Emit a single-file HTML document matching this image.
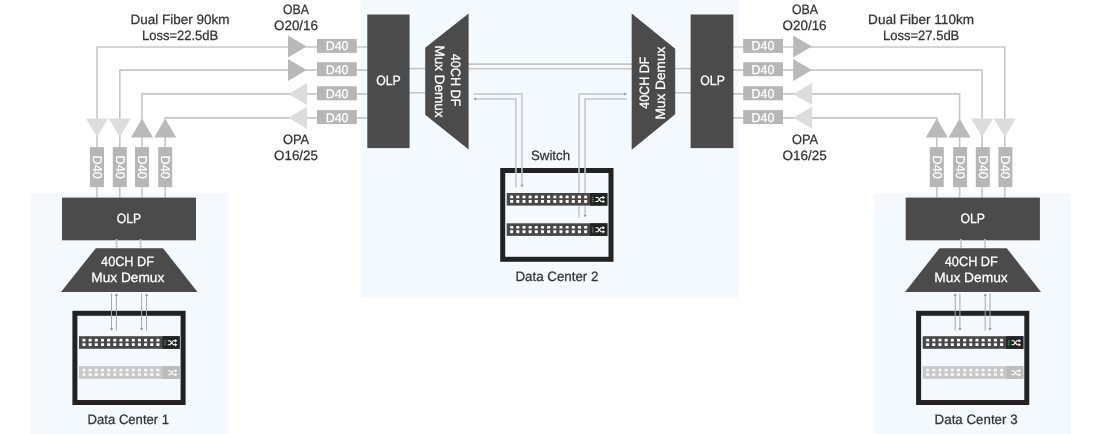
<!DOCTYPE html><html><head><meta charset="utf-8"><title>diagram</title><style>html,body{margin:0;padding:0;background:#fff}svg{display:block;will-change:transform}text{font-family:"Liberation Sans",sans-serif;text-rendering:geometricPrecision}</style></head><body><svg width="1100" height="434" viewBox="0 0 1100 434">
<rect width="1100" height="434" fill="#ffffff"/>
<rect x="30.7" y="193.1" width="196.8" height="242" fill="#f4f9fd"/>
<rect x="360.8" y="0" width="377.9" height="297.7" fill="#f4f9fd"/>
<rect x="874.5" y="193.1" width="196.5" height="242" fill="#f4f9fd"/>
<path d="M97.0 197.5 V47.0 H367.5" fill="none" stroke="#c6c6c6" stroke-width="1.6"/>
<path d="M119.8 197.5 V70.1 H367.5" fill="none" stroke="#c6c6c6" stroke-width="1.6"/>
<path d="M142.0 197.5 V93.9 H367.5" fill="none" stroke="#c6c6c6" stroke-width="1.6"/>
<path d="M165.2 197.5 V117.9 H367.5" fill="none" stroke="#c6c6c6" stroke-width="1.6"/>
<path d="M1004.8 197.5 V47.0 H733" fill="none" stroke="#c6c6c6" stroke-width="1.6"/>
<path d="M982.1 197.5 V70.1 H733" fill="none" stroke="#c6c6c6" stroke-width="1.6"/>
<path d="M959.6 197.5 V93.9 H733" fill="none" stroke="#c6c6c6" stroke-width="1.6"/>
<path d="M936.8 197.5 V117.9 H733" fill="none" stroke="#c6c6c6" stroke-width="1.6"/>
<path d="M409 68.6 H426" stroke="#c6c6c6" stroke-width="1.6"/>
<path d="M675 68.6 H691" stroke="#c6c6c6" stroke-width="1.6"/>
<path d="M409 92.8 H426" stroke="#c6c6c6" stroke-width="1.6"/>
<path d="M675 92.8 H691" stroke="#c6c6c6" stroke-width="1.6"/>
<path d="M468 64.1 H632" stroke="#c6c6c6" stroke-width="1.6"/>
<path d="M468 68.7 H632" stroke="#c6c6c6" stroke-width="1.6"/>
<polygon points="288,35.5 306.6,46.5 288,57.5" fill="#b9b9b9"/>
<polygon points="288,59.0 306.6,70.0 288,81.0" fill="#b9b9b9"/>
<polygon points="307,83.1 288.4,94.1 307,105.1" fill="#dcdcdc"/>
<polygon points="307,106.7 288.4,117.7 307,128.7" fill="#dcdcdc"/>
<polygon points="793.2,35.5 811.8,46.5 793.2,57.5" fill="#b9b9b9"/>
<polygon points="793.2,59.0 811.8,70.0 793.2,81.0" fill="#b9b9b9"/>
<polygon points="812.2,83.1 793.1,94.1 812.2,105.1" fill="#dcdcdc"/>
<polygon points="812.2,106.7 793.1,117.7 812.2,128.7" fill="#dcdcdc"/>
<polygon points="86.0,118.6 108.0,118.6 97.0,137.1" fill="#dcdcdc"/>
<polygon points="108.8,118.6 130.8,118.6 119.8,137.1" fill="#dcdcdc"/>
<polygon points="131.0,137.4 153.0,137.4 142.0,118.6" fill="#b9b9b9"/>
<polygon points="154.2,137.4 176.2,137.4 165.2,118.6" fill="#b9b9b9"/>
<polygon points="993.8,118.6 1015.8,118.6 1004.8,137.1" fill="#dcdcdc"/>
<polygon points="971.1,118.6 993.1,118.6 982.1,137.1" fill="#dcdcdc"/>
<polygon points="948.6,137.4 970.6,137.4 959.6,118.6" fill="#b9b9b9"/>
<polygon points="925.8,137.4 947.8,137.4 936.8,118.6" fill="#b9b9b9"/>
<rect x="317" y="38.9" width="39.8" height="14" fill="#b6b6b6"/>
<text x="325.7" y="50.3" font-size="12.8" fill="#fff" stroke="#fff" stroke-width="0.25" textLength="22.8" lengthAdjust="spacingAndGlyphs" >D40</text>
<rect x="743.2" y="38.9" width="39.8" height="14" fill="#b6b6b6"/>
<text x="751.6" y="50.3" font-size="12.8" fill="#fff" stroke="#fff" stroke-width="0.25" textLength="22.8" lengthAdjust="spacingAndGlyphs" >D40</text>
<rect x="317" y="62.2" width="39.8" height="14" fill="#b6b6b6"/>
<text x="325.7" y="73.60000000000001" font-size="12.8" fill="#fff" stroke="#fff" stroke-width="0.25" textLength="22.8" lengthAdjust="spacingAndGlyphs" >D40</text>
<rect x="743.2" y="62.2" width="39.8" height="14" fill="#b6b6b6"/>
<text x="751.6" y="73.60000000000001" font-size="12.8" fill="#fff" stroke="#fff" stroke-width="0.25" textLength="22.8" lengthAdjust="spacingAndGlyphs" >D40</text>
<rect x="317" y="86.3" width="39.8" height="14" fill="#b6b6b6"/>
<text x="325.7" y="97.7" font-size="12.8" fill="#fff" stroke="#fff" stroke-width="0.25" textLength="22.8" lengthAdjust="spacingAndGlyphs" >D40</text>
<rect x="743.2" y="86.3" width="39.8" height="14" fill="#b6b6b6"/>
<text x="751.6" y="97.7" font-size="12.8" fill="#fff" stroke="#fff" stroke-width="0.25" textLength="22.8" lengthAdjust="spacingAndGlyphs" >D40</text>
<rect x="317" y="110.1" width="39.8" height="14" fill="#b6b6b6"/>
<text x="325.7" y="121.5" font-size="12.8" fill="#fff" stroke="#fff" stroke-width="0.25" textLength="22.8" lengthAdjust="spacingAndGlyphs" >D40</text>
<rect x="743.2" y="110.1" width="39.8" height="14" fill="#b6b6b6"/>
<text x="751.6" y="121.5" font-size="12.8" fill="#fff" stroke="#fff" stroke-width="0.25" textLength="22.8" lengthAdjust="spacingAndGlyphs" >D40</text>
<rect x="90.0" y="147.1" width="14" height="40" fill="#b6b6b6"/>
<g transform="translate(92.8,155.6) rotate(90)">
<text x="0" y="0" font-size="12.8" fill="#fff" stroke="#fff" stroke-width="0.25" textLength="23.2" lengthAdjust="spacingAndGlyphs" >D40</text>
</g>
<rect x="112.8" y="147.1" width="14" height="40" fill="#b6b6b6"/>
<g transform="translate(115.6,155.6) rotate(90)">
<text x="0" y="0" font-size="12.8" fill="#fff" stroke="#fff" stroke-width="0.25" textLength="23.2" lengthAdjust="spacingAndGlyphs" >D40</text>
</g>
<rect x="135.0" y="147.1" width="14" height="40" fill="#b6b6b6"/>
<g transform="translate(137.8,155.6) rotate(90)">
<text x="0" y="0" font-size="12.8" fill="#fff" stroke="#fff" stroke-width="0.25" textLength="23.2" lengthAdjust="spacingAndGlyphs" >D40</text>
</g>
<rect x="158.2" y="147.1" width="14" height="40" fill="#b6b6b6"/>
<g transform="translate(161.0,155.6) rotate(90)">
<text x="0" y="0" font-size="12.8" fill="#fff" stroke="#fff" stroke-width="0.25" textLength="23.2" lengthAdjust="spacingAndGlyphs" >D40</text>
</g>
<rect x="998.4" y="147.1" width="14" height="40" fill="#b6b6b6"/>
<g transform="translate(1001.1999999999999,155.6) rotate(90)">
<text x="0" y="0" font-size="12.8" fill="#fff" stroke="#fff" stroke-width="0.25" textLength="23.2" lengthAdjust="spacingAndGlyphs" >D40</text>
</g>
<rect x="975.8" y="147.1" width="14" height="40" fill="#b6b6b6"/>
<g transform="translate(978.5999999999999,155.6) rotate(90)">
<text x="0" y="0" font-size="12.8" fill="#fff" stroke="#fff" stroke-width="0.25" textLength="23.2" lengthAdjust="spacingAndGlyphs" >D40</text>
</g>
<rect x="953.1" y="147.1" width="14" height="40" fill="#b6b6b6"/>
<g transform="translate(955.9,155.6) rotate(90)">
<text x="0" y="0" font-size="12.8" fill="#fff" stroke="#fff" stroke-width="0.25" textLength="23.2" lengthAdjust="spacingAndGlyphs" >D40</text>
</g>
<rect x="929.8" y="147.1" width="14" height="40" fill="#b6b6b6"/>
<g transform="translate(932.5999999999999,155.6) rotate(90)">
<text x="0" y="0" font-size="12.8" fill="#fff" stroke="#fff" stroke-width="0.25" textLength="23.2" lengthAdjust="spacingAndGlyphs" >D40</text>
</g>
<rect x="367.3" y="14.5" width="42.3" height="133.6" fill="#4b4b4b"/>
<rect x="690.6" y="14.5" width="42.8" height="133.6" fill="#4b4b4b"/>
<rect x="62" y="197.6" width="134" height="42.7" fill="#4b4b4b"/>
<rect x="905.7" y="197.6" width="134.2" height="42.7" fill="#4b4b4b"/>
<text x="376.2" y="84.6" font-size="13.5" fill="#fff" stroke="#fff" stroke-width="0.25" textLength="24.6" lengthAdjust="spacingAndGlyphs" >OLP</text>
<text x="700.3" y="84.6" font-size="13.5" fill="#fff" stroke="#fff" stroke-width="0.25" textLength="24.6" lengthAdjust="spacingAndGlyphs" >OLP</text>
<text x="116.8" y="223.3" font-size="13.5" fill="#fff" stroke="#fff" stroke-width="0.25" textLength="24.4" lengthAdjust="spacingAndGlyphs" >OLP</text>
<text x="960.4" y="223.3" font-size="13.5" fill="#fff" stroke="#fff" stroke-width="0.25" textLength="24.6" lengthAdjust="spacingAndGlyphs" >OLP</text>
<polygon points="468.6,13.4 468.6,149.6 425.2,114.7 425.2,47.8" fill="#4b4b4b"/>
<polygon points="631.7,13.5 631.7,149.7 675.2,114.3 675.2,48.7" fill="#4b4b4b"/>
<g transform="translate(450.8,53.8) rotate(90)">
<text x="0" y="0" font-size="13.5" fill="#fff" stroke="#fff" stroke-width="0.25" textLength="52.6" lengthAdjust="spacingAndGlyphs" >40CH DF</text>
</g>
<g transform="translate(435.2,45.4) rotate(90)">
<text x="0" y="0" font-size="13.5" fill="#fff" stroke="#fff" stroke-width="0.25" textLength="72.2" lengthAdjust="spacingAndGlyphs" >Mux Demux</text>
</g>
<g transform="translate(649.4,108.8) rotate(-90)">
<text x="0" y="0" font-size="13.5" fill="#fff" stroke="#fff" stroke-width="0.25" textLength="52.1" lengthAdjust="spacingAndGlyphs" >40CH DF</text>
</g>
<g transform="translate(665,119.5) rotate(-90)">
<text x="0" y="0" font-size="13.5" fill="#fff" stroke="#fff" stroke-width="0.25" textLength="72.8" lengthAdjust="spacingAndGlyphs" >Mux Demux</text>
</g>
<path d="M116.6 239 V249 M140.6 239 V249" stroke="#c6c6c6" stroke-width="1.6"/>
<polygon points="95.8,248.2 163,248.2 197.5,292 61,292" fill="#4b4b4b"/>
<path d="M961 239 V249 M985 239 V249" stroke="#c6c6c6" stroke-width="1.6"/>
<polygon points="939.5,248.2 1006.8,248.2 1041,292 905,292" fill="#4b4b4b"/>
<text x="101.1" y="265.7" font-size="13.5" fill="#fff" stroke="#fff" stroke-width="0.25" textLength="52.8" lengthAdjust="spacingAndGlyphs" >40CH DF</text>
<text x="91.3" y="281.8" font-size="13.5" fill="#fff" stroke="#fff" stroke-width="0.25" textLength="73" lengthAdjust="spacingAndGlyphs" >Mux Demux</text>
<text x="944.8" y="265.7" font-size="13.5" fill="#fff" stroke="#fff" stroke-width="0.25" textLength="53" lengthAdjust="spacingAndGlyphs" >40CH DF</text>
<text x="934.3" y="281.8" font-size="13.5" fill="#fff" stroke="#fff" stroke-width="0.25" textLength="73.4" lengthAdjust="spacingAndGlyphs" >Mux Demux</text>
<rect x="74.9" y="313.3" width="108.2" height="89.2" fill="none" stroke="#222222" stroke-width="5"/>
<rect x="918.6" y="313.3" width="108.2" height="89.2" fill="none" stroke="#222222" stroke-width="5"/>
<rect x="502.7" y="170.5" width="108.3" height="88.8" fill="none" stroke="#222222" stroke-width="5"/>
<path d="M111.5 293.6 V329" fill="none" stroke="#a8a8a8" stroke-width="1"/>
<polygon points="109.8,328.0 113.2,328.0 111.5,330.8" fill="#9c9c9c"/>
<path d="M141.6 293.6 V329" fill="none" stroke="#a8a8a8" stroke-width="1"/>
<polygon points="139.9,328.0 143.29999999999998,328.0 141.6,330.8" fill="#9c9c9c"/>
<path d="M116.4 295 V330.6" fill="none" stroke="#a8a8a8" stroke-width="1"/>
<polygon points="114.7,296.0 118.10000000000001,296.0 116.4,293.2" fill="#9c9c9c"/>
<path d="M146.5 295 V330.6" fill="none" stroke="#a8a8a8" stroke-width="1"/>
<polygon points="144.8,296.0 148.2,296.0 146.5,293.2" fill="#9c9c9c"/>
<path d="M955.2 295 V330.6" fill="none" stroke="#a8a8a8" stroke-width="1"/>
<polygon points="953.5,296.0 956.9000000000001,296.0 955.2,293.2" fill="#9c9c9c"/>
<path d="M985.2 295 V330.6" fill="none" stroke="#a8a8a8" stroke-width="1"/>
<polygon points="983.5,296.0 986.9000000000001,296.0 985.2,293.2" fill="#9c9c9c"/>
<path d="M959.9 293.6 V329" fill="none" stroke="#a8a8a8" stroke-width="1"/>
<polygon points="958.1999999999999,328.0 961.6,328.0 959.9,330.8" fill="#9c9c9c"/>
<path d="M990 293.6 V329" fill="none" stroke="#a8a8a8" stroke-width="1"/>
<polygon points="988.3,328.0 991.7,328.0 990,330.8" fill="#9c9c9c"/>
<path d="M473.6 94 H522 V186" fill="none" stroke="#c3c6c9" stroke-width="1.5"/>
<polygon points="520.3,184.79999999999998 523.7,184.79999999999998 522,187.6" fill="#9c9c9c"/>
<path d="M475 98.9 H515.9 V187.4" fill="none" stroke="#c3c6c9" stroke-width="1.5"/>
<polygon points="476.1,97.2 476.1,100.60000000000001 473.3,98.9" fill="#9c9c9c"/>
<path d="M625 94 H579 V217.4" fill="none" stroke="#c3c6c9" stroke-width="1.5"/>
<polygon points="624.1,92.3 624.1,95.7 626.9,94" fill="#9c9c9c"/>
<path d="M626.8 98.9 H585.1 V216" fill="none" stroke="#c3c6c9" stroke-width="1.5"/>
<polygon points="583.4,214.79999999999998 586.8000000000001,214.79999999999998 585.1,217.6" fill="#9c9c9c"/>
<rect x="79" y="336.2" width="100.7" height="12.6" fill="#484848"/>
<rect x="162.5" y="336.2" width="17.200000000000003" height="12.6" fill="#222222"/>
<path d="M82.40 341.4 V339.7 Q82.40 338.8 83.30 338.8 H84.60 Q85.50 338.8 85.50 339.7 V341.4 Z" fill="#ffffff"/>
<path d="M82.40 343.2 H85.50 V345.2 Q85.50 346.09999999999997 84.60 346.09999999999997 H83.30 Q82.40 346.09999999999997 82.40 345.2 Z" fill="#ffffff"/>
<path d="M88.57 341.4 V339.7 Q88.57 338.8 89.47 338.8 H90.77 Q91.67 338.8 91.67 339.7 V341.4 Z" fill="#ffffff"/>
<path d="M88.57 343.2 H91.67 V345.2 Q91.67 346.09999999999997 90.77 346.09999999999997 H89.47 Q88.57 346.09999999999997 88.57 345.2 Z" fill="#ffffff"/>
<path d="M94.73 341.4 V339.7 Q94.73 338.8 95.63 338.8 H96.93 Q97.83 338.8 97.83 339.7 V341.4 Z" fill="#ffffff"/>
<path d="M94.73 343.2 H97.83 V345.2 Q97.83 346.09999999999997 96.93 346.09999999999997 H95.63 Q94.73 346.09999999999997 94.73 345.2 Z" fill="#ffffff"/>
<path d="M100.90 341.4 V339.7 Q100.90 338.8 101.80 338.8 H103.09 Q104.00 338.8 104.00 339.7 V341.4 Z" fill="#ffffff"/>
<path d="M100.90 343.2 H104.00 V345.2 Q104.00 346.09999999999997 103.09 346.09999999999997 H101.80 Q100.90 346.09999999999997 100.90 345.2 Z" fill="#ffffff"/>
<path d="M107.06 341.4 V339.7 Q107.06 338.8 107.96 338.8 H109.26 Q110.16 338.8 110.16 339.7 V341.4 Z" fill="#ffffff"/>
<path d="M107.06 343.2 H110.16 V345.2 Q110.16 346.09999999999997 109.26 346.09999999999997 H107.96 Q107.06 346.09999999999997 107.06 345.2 Z" fill="#ffffff"/>
<path d="M113.23 341.4 V339.7 Q113.23 338.8 114.13 338.8 H115.42 Q116.33 338.8 116.33 339.7 V341.4 Z" fill="#ffffff"/>
<path d="M113.23 343.2 H116.33 V345.2 Q116.33 346.09999999999997 115.42 346.09999999999997 H114.13 Q113.23 346.09999999999997 113.23 345.2 Z" fill="#ffffff"/>
<path d="M119.39 341.4 V339.7 Q119.39 338.8 120.29 338.8 H121.59 Q122.49 338.8 122.49 339.7 V341.4 Z" fill="#ffffff"/>
<path d="M119.39 343.2 H122.49 V345.2 Q122.49 346.09999999999997 121.59 346.09999999999997 H120.29 Q119.39 346.09999999999997 119.39 345.2 Z" fill="#ffffff"/>
<path d="M125.56 341.4 V339.7 Q125.56 338.8 126.46 338.8 H127.75 Q128.66 338.8 128.66 339.7 V341.4 Z" fill="#ffffff"/>
<path d="M125.56 343.2 H128.66 V345.2 Q128.66 346.09999999999997 127.75 346.09999999999997 H126.46 Q125.56 346.09999999999997 125.56 345.2 Z" fill="#ffffff"/>
<path d="M131.72 341.4 V339.7 Q131.72 338.8 132.62 338.8 H133.92 Q134.82 338.8 134.82 339.7 V341.4 Z" fill="#ffffff"/>
<path d="M131.72 343.2 H134.82 V345.2 Q134.82 346.09999999999997 133.92 346.09999999999997 H132.62 Q131.72 346.09999999999997 131.72 345.2 Z" fill="#ffffff"/>
<path d="M137.88 341.4 V339.7 Q137.88 338.8 138.78 338.8 H140.09 Q140.99 338.8 140.99 339.7 V341.4 Z" fill="#ffffff"/>
<path d="M137.88 343.2 H140.99 V345.2 Q140.99 346.09999999999997 140.09 346.09999999999997 H138.78 Q137.88 346.09999999999997 137.88 345.2 Z" fill="#ffffff"/>
<path d="M144.05 341.4 V339.7 Q144.05 338.8 144.95 338.8 H146.25 Q147.15 338.8 147.15 339.7 V341.4 Z" fill="#ffffff"/>
<path d="M144.05 343.2 H147.15 V345.2 Q147.15 346.09999999999997 146.25 346.09999999999997 H144.95 Q144.05 346.09999999999997 144.05 345.2 Z" fill="#ffffff"/>
<path d="M150.21 341.4 V339.7 Q150.21 338.8 151.11 338.8 H152.41 Q153.31 338.8 153.31 339.7 V341.4 Z" fill="#ffffff"/>
<path d="M150.21 343.2 H153.31 V345.2 Q153.31 346.09999999999997 152.41 346.09999999999997 H151.11 Q150.21 346.09999999999997 150.21 345.2 Z" fill="#ffffff"/>
<path d="M156.38 341.4 V339.7 Q156.38 338.8 157.28 338.8 H158.58 Q159.48 338.8 159.48 339.7 V341.4 Z" fill="#ffffff"/>
<path d="M156.38 343.2 H159.48 V345.2 Q159.48 346.09999999999997 158.58 346.09999999999997 H157.28 Q156.38 346.09999999999997 156.38 345.2 Z" fill="#ffffff"/>
<rect x="164.2" y="340.09999999999997" width="1.6" height="1.2" fill="#4f9c4f"/>
<rect x="164.2" y="342.2" width="1.6" height="1.2" fill="#4f9c4f"/>
<rect x="164.2" y="344.2" width="1.6" height="1.2" fill="#4f9c4f"/>
<g transform="translate(167.8,342.7)" fill="none" stroke="#fff" stroke-width="1.05"><path d="M0 -2 H2.2 L5.4 2 H7.6"/><path d="M0 2 H2.2 L5.4 -2 H7.6"/><path d="M7.1 -3.7 L9.6 -2 L7.1 -0.3 Z" fill="#fff" stroke="none"/><path d="M7.1 3.7 L9.6 2 L7.1 0.3 Z" fill="#fff" stroke="none"/></g>
<rect x="79" y="366.2" width="100.7" height="12.6" fill="#c9c9c9"/>
<rect x="162.5" y="366.2" width="17.200000000000003" height="12.6" fill="#bbbbbb"/>
<path d="M82.40 371.4 V369.7 Q82.40 368.8 83.30 368.8 H84.60 Q85.50 368.8 85.50 369.7 V371.4 Z" fill="#f6f6f6"/>
<path d="M82.40 373.2 H85.50 V375.2 Q85.50 376.09999999999997 84.60 376.09999999999997 H83.30 Q82.40 376.09999999999997 82.40 375.2 Z" fill="#f6f6f6"/>
<path d="M88.57 371.4 V369.7 Q88.57 368.8 89.47 368.8 H90.77 Q91.67 368.8 91.67 369.7 V371.4 Z" fill="#f6f6f6"/>
<path d="M88.57 373.2 H91.67 V375.2 Q91.67 376.09999999999997 90.77 376.09999999999997 H89.47 Q88.57 376.09999999999997 88.57 375.2 Z" fill="#f6f6f6"/>
<path d="M94.73 371.4 V369.7 Q94.73 368.8 95.63 368.8 H96.93 Q97.83 368.8 97.83 369.7 V371.4 Z" fill="#f6f6f6"/>
<path d="M94.73 373.2 H97.83 V375.2 Q97.83 376.09999999999997 96.93 376.09999999999997 H95.63 Q94.73 376.09999999999997 94.73 375.2 Z" fill="#f6f6f6"/>
<path d="M100.90 371.4 V369.7 Q100.90 368.8 101.80 368.8 H103.09 Q104.00 368.8 104.00 369.7 V371.4 Z" fill="#f6f6f6"/>
<path d="M100.90 373.2 H104.00 V375.2 Q104.00 376.09999999999997 103.09 376.09999999999997 H101.80 Q100.90 376.09999999999997 100.90 375.2 Z" fill="#f6f6f6"/>
<path d="M107.06 371.4 V369.7 Q107.06 368.8 107.96 368.8 H109.26 Q110.16 368.8 110.16 369.7 V371.4 Z" fill="#f6f6f6"/>
<path d="M107.06 373.2 H110.16 V375.2 Q110.16 376.09999999999997 109.26 376.09999999999997 H107.96 Q107.06 376.09999999999997 107.06 375.2 Z" fill="#f6f6f6"/>
<path d="M113.23 371.4 V369.7 Q113.23 368.8 114.13 368.8 H115.42 Q116.33 368.8 116.33 369.7 V371.4 Z" fill="#f6f6f6"/>
<path d="M113.23 373.2 H116.33 V375.2 Q116.33 376.09999999999997 115.42 376.09999999999997 H114.13 Q113.23 376.09999999999997 113.23 375.2 Z" fill="#f6f6f6"/>
<path d="M119.39 371.4 V369.7 Q119.39 368.8 120.29 368.8 H121.59 Q122.49 368.8 122.49 369.7 V371.4 Z" fill="#f6f6f6"/>
<path d="M119.39 373.2 H122.49 V375.2 Q122.49 376.09999999999997 121.59 376.09999999999997 H120.29 Q119.39 376.09999999999997 119.39 375.2 Z" fill="#f6f6f6"/>
<path d="M125.56 371.4 V369.7 Q125.56 368.8 126.46 368.8 H127.75 Q128.66 368.8 128.66 369.7 V371.4 Z" fill="#f6f6f6"/>
<path d="M125.56 373.2 H128.66 V375.2 Q128.66 376.09999999999997 127.75 376.09999999999997 H126.46 Q125.56 376.09999999999997 125.56 375.2 Z" fill="#f6f6f6"/>
<path d="M131.72 371.4 V369.7 Q131.72 368.8 132.62 368.8 H133.92 Q134.82 368.8 134.82 369.7 V371.4 Z" fill="#f6f6f6"/>
<path d="M131.72 373.2 H134.82 V375.2 Q134.82 376.09999999999997 133.92 376.09999999999997 H132.62 Q131.72 376.09999999999997 131.72 375.2 Z" fill="#f6f6f6"/>
<path d="M137.88 371.4 V369.7 Q137.88 368.8 138.78 368.8 H140.09 Q140.99 368.8 140.99 369.7 V371.4 Z" fill="#f6f6f6"/>
<path d="M137.88 373.2 H140.99 V375.2 Q140.99 376.09999999999997 140.09 376.09999999999997 H138.78 Q137.88 376.09999999999997 137.88 375.2 Z" fill="#f6f6f6"/>
<path d="M144.05 371.4 V369.7 Q144.05 368.8 144.95 368.8 H146.25 Q147.15 368.8 147.15 369.7 V371.4 Z" fill="#f6f6f6"/>
<path d="M144.05 373.2 H147.15 V375.2 Q147.15 376.09999999999997 146.25 376.09999999999997 H144.95 Q144.05 376.09999999999997 144.05 375.2 Z" fill="#f6f6f6"/>
<path d="M150.21 371.4 V369.7 Q150.21 368.8 151.11 368.8 H152.41 Q153.31 368.8 153.31 369.7 V371.4 Z" fill="#f6f6f6"/>
<path d="M150.21 373.2 H153.31 V375.2 Q153.31 376.09999999999997 152.41 376.09999999999997 H151.11 Q150.21 376.09999999999997 150.21 375.2 Z" fill="#f6f6f6"/>
<path d="M156.38 371.4 V369.7 Q156.38 368.8 157.28 368.8 H158.58 Q159.48 368.8 159.48 369.7 V371.4 Z" fill="#f6f6f6"/>
<path d="M156.38 373.2 H159.48 V375.2 Q159.48 376.09999999999997 158.58 376.09999999999997 H157.28 Q156.38 376.09999999999997 156.38 375.2 Z" fill="#f6f6f6"/>
<g transform="translate(167.8,372.7)" fill="none" stroke="#fff" stroke-width="1.05"><path d="M0 -2 H2.2 L5.4 2 H7.6"/><path d="M0 2 H2.2 L5.4 -2 H7.6"/><path d="M7.1 -3.7 L9.6 -2 L7.1 -0.3 Z" fill="#fff" stroke="none"/><path d="M7.1 3.7 L9.6 2 L7.1 0.3 Z" fill="#fff" stroke="none"/></g>
<rect x="922.7" y="336.2" width="100.7" height="12.6" fill="#484848"/>
<rect x="1006.2" y="336.2" width="17.200000000000003" height="12.6" fill="#222222"/>
<path d="M926.10 341.4 V339.7 Q926.10 338.8 927.00 338.8 H928.30 Q929.20 338.8 929.20 339.7 V341.4 Z" fill="#ffffff"/>
<path d="M926.10 343.2 H929.20 V345.2 Q929.20 346.09999999999997 928.30 346.09999999999997 H927.00 Q926.10 346.09999999999997 926.10 345.2 Z" fill="#ffffff"/>
<path d="M932.27 341.4 V339.7 Q932.27 338.8 933.17 338.8 H934.47 Q935.37 338.8 935.37 339.7 V341.4 Z" fill="#ffffff"/>
<path d="M932.27 343.2 H935.37 V345.2 Q935.37 346.09999999999997 934.47 346.09999999999997 H933.17 Q932.27 346.09999999999997 932.27 345.2 Z" fill="#ffffff"/>
<path d="M938.43 341.4 V339.7 Q938.43 338.8 939.33 338.8 H940.63 Q941.53 338.8 941.53 339.7 V341.4 Z" fill="#ffffff"/>
<path d="M938.43 343.2 H941.53 V345.2 Q941.53 346.09999999999997 940.63 346.09999999999997 H939.33 Q938.43 346.09999999999997 938.43 345.2 Z" fill="#ffffff"/>
<path d="M944.60 341.4 V339.7 Q944.60 338.8 945.50 338.8 H946.80 Q947.70 338.8 947.70 339.7 V341.4 Z" fill="#ffffff"/>
<path d="M944.60 343.2 H947.70 V345.2 Q947.70 346.09999999999997 946.80 346.09999999999997 H945.50 Q944.60 346.09999999999997 944.60 345.2 Z" fill="#ffffff"/>
<path d="M950.76 341.4 V339.7 Q950.76 338.8 951.66 338.8 H952.96 Q953.86 338.8 953.86 339.7 V341.4 Z" fill="#ffffff"/>
<path d="M950.76 343.2 H953.86 V345.2 Q953.86 346.09999999999997 952.96 346.09999999999997 H951.66 Q950.76 346.09999999999997 950.76 345.2 Z" fill="#ffffff"/>
<path d="M956.93 341.4 V339.7 Q956.93 338.8 957.83 338.8 H959.13 Q960.03 338.8 960.03 339.7 V341.4 Z" fill="#ffffff"/>
<path d="M956.93 343.2 H960.03 V345.2 Q960.03 346.09999999999997 959.13 346.09999999999997 H957.83 Q956.93 346.09999999999997 956.93 345.2 Z" fill="#ffffff"/>
<path d="M963.09 341.4 V339.7 Q963.09 338.8 963.99 338.8 H965.29 Q966.19 338.8 966.19 339.7 V341.4 Z" fill="#ffffff"/>
<path d="M963.09 343.2 H966.19 V345.2 Q966.19 346.09999999999997 965.29 346.09999999999997 H963.99 Q963.09 346.09999999999997 963.09 345.2 Z" fill="#ffffff"/>
<path d="M969.26 341.4 V339.7 Q969.26 338.8 970.16 338.8 H971.46 Q972.36 338.8 972.36 339.7 V341.4 Z" fill="#ffffff"/>
<path d="M969.26 343.2 H972.36 V345.2 Q972.36 346.09999999999997 971.46 346.09999999999997 H970.16 Q969.26 346.09999999999997 969.26 345.2 Z" fill="#ffffff"/>
<path d="M975.42 341.4 V339.7 Q975.42 338.8 976.32 338.8 H977.62 Q978.52 338.8 978.52 339.7 V341.4 Z" fill="#ffffff"/>
<path d="M975.42 343.2 H978.52 V345.2 Q978.52 346.09999999999997 977.62 346.09999999999997 H976.32 Q975.42 346.09999999999997 975.42 345.2 Z" fill="#ffffff"/>
<path d="M981.59 341.4 V339.7 Q981.59 338.8 982.49 338.8 H983.79 Q984.69 338.8 984.69 339.7 V341.4 Z" fill="#ffffff"/>
<path d="M981.59 343.2 H984.69 V345.2 Q984.69 346.09999999999997 983.79 346.09999999999997 H982.49 Q981.59 346.09999999999997 981.59 345.2 Z" fill="#ffffff"/>
<path d="M987.75 341.4 V339.7 Q987.75 338.8 988.65 338.8 H989.95 Q990.85 338.8 990.85 339.7 V341.4 Z" fill="#ffffff"/>
<path d="M987.75 343.2 H990.85 V345.2 Q990.85 346.09999999999997 989.95 346.09999999999997 H988.65 Q987.75 346.09999999999997 987.75 345.2 Z" fill="#ffffff"/>
<path d="M993.92 341.4 V339.7 Q993.92 338.8 994.82 338.8 H996.12 Q997.02 338.8 997.02 339.7 V341.4 Z" fill="#ffffff"/>
<path d="M993.92 343.2 H997.02 V345.2 Q997.02 346.09999999999997 996.12 346.09999999999997 H994.82 Q993.92 346.09999999999997 993.92 345.2 Z" fill="#ffffff"/>
<path d="M1000.08 341.4 V339.7 Q1000.08 338.8 1000.98 338.8 H1002.28 Q1003.18 338.8 1003.18 339.7 V341.4 Z" fill="#ffffff"/>
<path d="M1000.08 343.2 H1003.18 V345.2 Q1003.18 346.09999999999997 1002.28 346.09999999999997 H1000.98 Q1000.08 346.09999999999997 1000.08 345.2 Z" fill="#ffffff"/>
<rect x="1007.9000000000001" y="340.09999999999997" width="1.6" height="1.2" fill="#4f9c4f"/>
<rect x="1007.9000000000001" y="342.2" width="1.6" height="1.2" fill="#4f9c4f"/>
<rect x="1007.9000000000001" y="344.2" width="1.6" height="1.2" fill="#4f9c4f"/>
<g transform="translate(1011.5,342.7)" fill="none" stroke="#fff" stroke-width="1.05"><path d="M0 -2 H2.2 L5.4 2 H7.6"/><path d="M0 2 H2.2 L5.4 -2 H7.6"/><path d="M7.1 -3.7 L9.6 -2 L7.1 -0.3 Z" fill="#fff" stroke="none"/><path d="M7.1 3.7 L9.6 2 L7.1 0.3 Z" fill="#fff" stroke="none"/></g>
<rect x="922.7" y="366.2" width="100.7" height="12.6" fill="#c9c9c9"/>
<rect x="1006.2" y="366.2" width="17.200000000000003" height="12.6" fill="#bbbbbb"/>
<path d="M926.10 371.4 V369.7 Q926.10 368.8 927.00 368.8 H928.30 Q929.20 368.8 929.20 369.7 V371.4 Z" fill="#f6f6f6"/>
<path d="M926.10 373.2 H929.20 V375.2 Q929.20 376.09999999999997 928.30 376.09999999999997 H927.00 Q926.10 376.09999999999997 926.10 375.2 Z" fill="#f6f6f6"/>
<path d="M932.27 371.4 V369.7 Q932.27 368.8 933.17 368.8 H934.47 Q935.37 368.8 935.37 369.7 V371.4 Z" fill="#f6f6f6"/>
<path d="M932.27 373.2 H935.37 V375.2 Q935.37 376.09999999999997 934.47 376.09999999999997 H933.17 Q932.27 376.09999999999997 932.27 375.2 Z" fill="#f6f6f6"/>
<path d="M938.43 371.4 V369.7 Q938.43 368.8 939.33 368.8 H940.63 Q941.53 368.8 941.53 369.7 V371.4 Z" fill="#f6f6f6"/>
<path d="M938.43 373.2 H941.53 V375.2 Q941.53 376.09999999999997 940.63 376.09999999999997 H939.33 Q938.43 376.09999999999997 938.43 375.2 Z" fill="#f6f6f6"/>
<path d="M944.60 371.4 V369.7 Q944.60 368.8 945.50 368.8 H946.80 Q947.70 368.8 947.70 369.7 V371.4 Z" fill="#f6f6f6"/>
<path d="M944.60 373.2 H947.70 V375.2 Q947.70 376.09999999999997 946.80 376.09999999999997 H945.50 Q944.60 376.09999999999997 944.60 375.2 Z" fill="#f6f6f6"/>
<path d="M950.76 371.4 V369.7 Q950.76 368.8 951.66 368.8 H952.96 Q953.86 368.8 953.86 369.7 V371.4 Z" fill="#f6f6f6"/>
<path d="M950.76 373.2 H953.86 V375.2 Q953.86 376.09999999999997 952.96 376.09999999999997 H951.66 Q950.76 376.09999999999997 950.76 375.2 Z" fill="#f6f6f6"/>
<path d="M956.93 371.4 V369.7 Q956.93 368.8 957.83 368.8 H959.13 Q960.03 368.8 960.03 369.7 V371.4 Z" fill="#f6f6f6"/>
<path d="M956.93 373.2 H960.03 V375.2 Q960.03 376.09999999999997 959.13 376.09999999999997 H957.83 Q956.93 376.09999999999997 956.93 375.2 Z" fill="#f6f6f6"/>
<path d="M963.09 371.4 V369.7 Q963.09 368.8 963.99 368.8 H965.29 Q966.19 368.8 966.19 369.7 V371.4 Z" fill="#f6f6f6"/>
<path d="M963.09 373.2 H966.19 V375.2 Q966.19 376.09999999999997 965.29 376.09999999999997 H963.99 Q963.09 376.09999999999997 963.09 375.2 Z" fill="#f6f6f6"/>
<path d="M969.26 371.4 V369.7 Q969.26 368.8 970.16 368.8 H971.46 Q972.36 368.8 972.36 369.7 V371.4 Z" fill="#f6f6f6"/>
<path d="M969.26 373.2 H972.36 V375.2 Q972.36 376.09999999999997 971.46 376.09999999999997 H970.16 Q969.26 376.09999999999997 969.26 375.2 Z" fill="#f6f6f6"/>
<path d="M975.42 371.4 V369.7 Q975.42 368.8 976.32 368.8 H977.62 Q978.52 368.8 978.52 369.7 V371.4 Z" fill="#f6f6f6"/>
<path d="M975.42 373.2 H978.52 V375.2 Q978.52 376.09999999999997 977.62 376.09999999999997 H976.32 Q975.42 376.09999999999997 975.42 375.2 Z" fill="#f6f6f6"/>
<path d="M981.59 371.4 V369.7 Q981.59 368.8 982.49 368.8 H983.79 Q984.69 368.8 984.69 369.7 V371.4 Z" fill="#f6f6f6"/>
<path d="M981.59 373.2 H984.69 V375.2 Q984.69 376.09999999999997 983.79 376.09999999999997 H982.49 Q981.59 376.09999999999997 981.59 375.2 Z" fill="#f6f6f6"/>
<path d="M987.75 371.4 V369.7 Q987.75 368.8 988.65 368.8 H989.95 Q990.85 368.8 990.85 369.7 V371.4 Z" fill="#f6f6f6"/>
<path d="M987.75 373.2 H990.85 V375.2 Q990.85 376.09999999999997 989.95 376.09999999999997 H988.65 Q987.75 376.09999999999997 987.75 375.2 Z" fill="#f6f6f6"/>
<path d="M993.92 371.4 V369.7 Q993.92 368.8 994.82 368.8 H996.12 Q997.02 368.8 997.02 369.7 V371.4 Z" fill="#f6f6f6"/>
<path d="M993.92 373.2 H997.02 V375.2 Q997.02 376.09999999999997 996.12 376.09999999999997 H994.82 Q993.92 376.09999999999997 993.92 375.2 Z" fill="#f6f6f6"/>
<path d="M1000.08 371.4 V369.7 Q1000.08 368.8 1000.98 368.8 H1002.28 Q1003.18 368.8 1003.18 369.7 V371.4 Z" fill="#f6f6f6"/>
<path d="M1000.08 373.2 H1003.18 V375.2 Q1003.18 376.09999999999997 1002.28 376.09999999999997 H1000.98 Q1000.08 376.09999999999997 1000.08 375.2 Z" fill="#f6f6f6"/>
<g transform="translate(1011.5,372.7)" fill="none" stroke="#fff" stroke-width="1.05"><path d="M0 -2 H2.2 L5.4 2 H7.6"/><path d="M0 2 H2.2 L5.4 -2 H7.6"/><path d="M7.1 -3.7 L9.6 -2 L7.1 -0.3 Z" fill="#fff" stroke="none"/><path d="M7.1 3.7 L9.6 2 L7.1 0.3 Z" fill="#fff" stroke="none"/></g>
<rect x="506.7" y="193" width="100.7" height="12.6" fill="#484848"/>
<rect x="590.2" y="193" width="17.200000000000003" height="12.6" fill="#222222"/>
<path d="M510.10 198.2 V196.5 Q510.10 195.6 511.00 195.6 H512.30 Q513.20 195.6 513.20 196.5 V198.2 Z" fill="#ffffff"/>
<path d="M510.10 200.0 H513.20 V202.0 Q513.20 202.9 512.30 202.9 H511.00 Q510.10 202.9 510.10 202.0 Z" fill="#ffffff"/>
<path d="M516.26 198.2 V196.5 Q516.26 195.6 517.16 195.6 H518.46 Q519.36 195.6 519.36 196.5 V198.2 Z" fill="#ffffff"/>
<path d="M516.26 200.0 H519.36 V202.0 Q519.36 202.9 518.46 202.9 H517.16 Q516.26 202.9 516.26 202.0 Z" fill="#ffffff"/>
<path d="M522.43 198.2 V196.5 Q522.43 195.6 523.33 195.6 H524.63 Q525.53 195.6 525.53 196.5 V198.2 Z" fill="#ffffff"/>
<path d="M522.43 200.0 H525.53 V202.0 Q525.53 202.9 524.63 202.9 H523.33 Q522.43 202.9 522.43 202.0 Z" fill="#ffffff"/>
<path d="M528.60 198.2 V196.5 Q528.60 195.6 529.50 195.6 H530.79 Q531.69 195.6 531.69 196.5 V198.2 Z" fill="#ffffff"/>
<path d="M528.60 200.0 H531.69 V202.0 Q531.69 202.9 530.79 202.9 H529.50 Q528.60 202.9 528.60 202.0 Z" fill="#ffffff"/>
<path d="M534.76 198.2 V196.5 Q534.76 195.6 535.66 195.6 H536.96 Q537.86 195.6 537.86 196.5 V198.2 Z" fill="#ffffff"/>
<path d="M534.76 200.0 H537.86 V202.0 Q537.86 202.9 536.96 202.9 H535.66 Q534.76 202.9 534.76 202.0 Z" fill="#ffffff"/>
<path d="M540.93 198.2 V196.5 Q540.93 195.6 541.83 195.6 H543.12 Q544.02 195.6 544.02 196.5 V198.2 Z" fill="#ffffff"/>
<path d="M540.93 200.0 H544.02 V202.0 Q544.02 202.9 543.12 202.9 H541.83 Q540.93 202.9 540.93 202.0 Z" fill="#ffffff"/>
<path d="M547.09 198.2 V196.5 Q547.09 195.6 547.99 195.6 H549.29 Q550.19 195.6 550.19 196.5 V198.2 Z" fill="#ffffff"/>
<path d="M547.09 200.0 H550.19 V202.0 Q550.19 202.9 549.29 202.9 H547.99 Q547.09 202.9 547.09 202.0 Z" fill="#ffffff"/>
<path d="M553.25 198.2 V196.5 Q553.25 195.6 554.15 195.6 H555.45 Q556.35 195.6 556.35 196.5 V198.2 Z" fill="#ffffff"/>
<path d="M553.25 200.0 H556.35 V202.0 Q556.35 202.9 555.45 202.9 H554.15 Q553.25 202.9 553.25 202.0 Z" fill="#ffffff"/>
<path d="M559.42 198.2 V196.5 Q559.42 195.6 560.32 195.6 H561.62 Q562.52 195.6 562.52 196.5 V198.2 Z" fill="#ffffff"/>
<path d="M559.42 200.0 H562.52 V202.0 Q562.52 202.9 561.62 202.9 H560.32 Q559.42 202.9 559.42 202.0 Z" fill="#ffffff"/>
<path d="M565.59 198.2 V196.5 Q565.59 195.6 566.49 195.6 H567.78 Q568.68 195.6 568.68 196.5 V198.2 Z" fill="#ffffff"/>
<path d="M565.59 200.0 H568.68 V202.0 Q568.68 202.9 567.78 202.9 H566.49 Q565.59 202.9 565.59 202.0 Z" fill="#ffffff"/>
<path d="M571.75 198.2 V196.5 Q571.75 195.6 572.65 195.6 H573.95 Q574.85 195.6 574.85 196.5 V198.2 Z" fill="#ffffff"/>
<path d="M571.75 200.0 H574.85 V202.0 Q574.85 202.9 573.95 202.9 H572.65 Q571.75 202.9 571.75 202.0 Z" fill="#ffffff"/>
<path d="M577.91 198.2 V196.5 Q577.91 195.6 578.81 195.6 H580.11 Q581.01 195.6 581.01 196.5 V198.2 Z" fill="#ffffff"/>
<path d="M577.91 200.0 H581.01 V202.0 Q581.01 202.9 580.11 202.9 H578.81 Q577.91 202.9 577.91 202.0 Z" fill="#ffffff"/>
<path d="M584.08 198.2 V196.5 Q584.08 195.6 584.98 195.6 H586.28 Q587.18 195.6 587.18 196.5 V198.2 Z" fill="#ffffff"/>
<path d="M584.08 200.0 H587.18 V202.0 Q587.18 202.9 586.28 202.9 H584.98 Q584.08 202.9 584.08 202.0 Z" fill="#ffffff"/>
<rect x="591.9" y="196.9" width="1.6" height="1.2" fill="#4f9c4f"/>
<rect x="591.9" y="199.0" width="1.6" height="1.2" fill="#4f9c4f"/>
<rect x="591.9" y="201.0" width="1.6" height="1.2" fill="#4f9c4f"/>
<g transform="translate(595.5,199.5)" fill="none" stroke="#fff" stroke-width="1.05"><path d="M0 -2 H2.2 L5.4 2 H7.6"/><path d="M0 2 H2.2 L5.4 -2 H7.6"/><path d="M7.1 -3.7 L9.6 -2 L7.1 -0.3 Z" fill="#fff" stroke="none"/><path d="M7.1 3.7 L9.6 2 L7.1 0.3 Z" fill="#fff" stroke="none"/></g>
<rect x="506.7" y="223.3" width="100.7" height="12.6" fill="#484848"/>
<rect x="590.2" y="223.3" width="17.200000000000003" height="12.6" fill="#222222"/>
<path d="M510.10 228.5 V226.8 Q510.10 225.9 511.00 225.9 H512.30 Q513.20 225.9 513.20 226.8 V228.5 Z" fill="#ffffff"/>
<path d="M510.10 230.3 H513.20 V232.3 Q513.20 233.20000000000002 512.30 233.20000000000002 H511.00 Q510.10 233.20000000000002 510.10 232.3 Z" fill="#ffffff"/>
<path d="M516.26 228.5 V226.8 Q516.26 225.9 517.16 225.9 H518.46 Q519.36 225.9 519.36 226.8 V228.5 Z" fill="#ffffff"/>
<path d="M516.26 230.3 H519.36 V232.3 Q519.36 233.20000000000002 518.46 233.20000000000002 H517.16 Q516.26 233.20000000000002 516.26 232.3 Z" fill="#ffffff"/>
<path d="M522.43 228.5 V226.8 Q522.43 225.9 523.33 225.9 H524.63 Q525.53 225.9 525.53 226.8 V228.5 Z" fill="#ffffff"/>
<path d="M522.43 230.3 H525.53 V232.3 Q525.53 233.20000000000002 524.63 233.20000000000002 H523.33 Q522.43 233.20000000000002 522.43 232.3 Z" fill="#ffffff"/>
<path d="M528.60 228.5 V226.8 Q528.60 225.9 529.50 225.9 H530.79 Q531.69 225.9 531.69 226.8 V228.5 Z" fill="#ffffff"/>
<path d="M528.60 230.3 H531.69 V232.3 Q531.69 233.20000000000002 530.79 233.20000000000002 H529.50 Q528.60 233.20000000000002 528.60 232.3 Z" fill="#ffffff"/>
<path d="M534.76 228.5 V226.8 Q534.76 225.9 535.66 225.9 H536.96 Q537.86 225.9 537.86 226.8 V228.5 Z" fill="#ffffff"/>
<path d="M534.76 230.3 H537.86 V232.3 Q537.86 233.20000000000002 536.96 233.20000000000002 H535.66 Q534.76 233.20000000000002 534.76 232.3 Z" fill="#ffffff"/>
<path d="M540.93 228.5 V226.8 Q540.93 225.9 541.83 225.9 H543.12 Q544.02 225.9 544.02 226.8 V228.5 Z" fill="#ffffff"/>
<path d="M540.93 230.3 H544.02 V232.3 Q544.02 233.20000000000002 543.12 233.20000000000002 H541.83 Q540.93 233.20000000000002 540.93 232.3 Z" fill="#ffffff"/>
<path d="M547.09 228.5 V226.8 Q547.09 225.9 547.99 225.9 H549.29 Q550.19 225.9 550.19 226.8 V228.5 Z" fill="#ffffff"/>
<path d="M547.09 230.3 H550.19 V232.3 Q550.19 233.20000000000002 549.29 233.20000000000002 H547.99 Q547.09 233.20000000000002 547.09 232.3 Z" fill="#ffffff"/>
<path d="M553.25 228.5 V226.8 Q553.25 225.9 554.15 225.9 H555.45 Q556.35 225.9 556.35 226.8 V228.5 Z" fill="#ffffff"/>
<path d="M553.25 230.3 H556.35 V232.3 Q556.35 233.20000000000002 555.45 233.20000000000002 H554.15 Q553.25 233.20000000000002 553.25 232.3 Z" fill="#ffffff"/>
<path d="M559.42 228.5 V226.8 Q559.42 225.9 560.32 225.9 H561.62 Q562.52 225.9 562.52 226.8 V228.5 Z" fill="#ffffff"/>
<path d="M559.42 230.3 H562.52 V232.3 Q562.52 233.20000000000002 561.62 233.20000000000002 H560.32 Q559.42 233.20000000000002 559.42 232.3 Z" fill="#ffffff"/>
<path d="M565.59 228.5 V226.8 Q565.59 225.9 566.49 225.9 H567.78 Q568.68 225.9 568.68 226.8 V228.5 Z" fill="#ffffff"/>
<path d="M565.59 230.3 H568.68 V232.3 Q568.68 233.20000000000002 567.78 233.20000000000002 H566.49 Q565.59 233.20000000000002 565.59 232.3 Z" fill="#ffffff"/>
<path d="M571.75 228.5 V226.8 Q571.75 225.9 572.65 225.9 H573.95 Q574.85 225.9 574.85 226.8 V228.5 Z" fill="#ffffff"/>
<path d="M571.75 230.3 H574.85 V232.3 Q574.85 233.20000000000002 573.95 233.20000000000002 H572.65 Q571.75 233.20000000000002 571.75 232.3 Z" fill="#ffffff"/>
<path d="M577.91 228.5 V226.8 Q577.91 225.9 578.81 225.9 H580.11 Q581.01 225.9 581.01 226.8 V228.5 Z" fill="#ffffff"/>
<path d="M577.91 230.3 H581.01 V232.3 Q581.01 233.20000000000002 580.11 233.20000000000002 H578.81 Q577.91 233.20000000000002 577.91 232.3 Z" fill="#ffffff"/>
<path d="M584.08 228.5 V226.8 Q584.08 225.9 584.98 225.9 H586.28 Q587.18 225.9 587.18 226.8 V228.5 Z" fill="#ffffff"/>
<path d="M584.08 230.3 H587.18 V232.3 Q587.18 233.20000000000002 586.28 233.20000000000002 H584.98 Q584.08 233.20000000000002 584.08 232.3 Z" fill="#ffffff"/>
<rect x="591.9" y="227.20000000000002" width="1.6" height="1.2" fill="#4f9c4f"/>
<rect x="591.9" y="229.3" width="1.6" height="1.2" fill="#4f9c4f"/>
<rect x="591.9" y="231.3" width="1.6" height="1.2" fill="#4f9c4f"/>
<g transform="translate(595.5,229.8)" fill="none" stroke="#fff" stroke-width="1.05"><path d="M0 -2 H2.2 L5.4 2 H7.6"/><path d="M0 2 H2.2 L5.4 -2 H7.6"/><path d="M7.1 -3.7 L9.6 -2 L7.1 -0.3 Z" fill="#fff" stroke="none"/><path d="M7.1 3.7 L9.6 2 L7.1 0.3 Z" fill="#fff" stroke="none"/></g>
<text x="130.5" y="24" font-size="13.5" fill="#333333" stroke="#333333" stroke-width="0.25" textLength="98.9" lengthAdjust="spacingAndGlyphs" >Dual Fiber 90km</text>
<text x="141.9" y="39.6" font-size="13.5" fill="#333333" stroke="#333333" stroke-width="0.25" textLength="76.4" lengthAdjust="spacingAndGlyphs" >Loss=22.5dB</text>
<text x="283" y="14" font-size="13.5" fill="#333333" stroke="#333333" stroke-width="0.25" textLength="26" lengthAdjust="spacingAndGlyphs" >OBA</text>
<text x="274" y="30" font-size="13.5" fill="#333333" stroke="#333333" stroke-width="0.25" textLength="44" lengthAdjust="spacingAndGlyphs" >O20/16</text>
<text x="283" y="144" font-size="13.5" fill="#333333" stroke="#333333" stroke-width="0.25" textLength="26.2" lengthAdjust="spacingAndGlyphs" >OPA</text>
<text x="274" y="159.6" font-size="13.5" fill="#333333" stroke="#333333" stroke-width="0.25" textLength="44" lengthAdjust="spacingAndGlyphs" >O16/25</text>
<text x="792" y="14" font-size="13.5" fill="#333333" stroke="#333333" stroke-width="0.25" textLength="26" lengthAdjust="spacingAndGlyphs" >OBA</text>
<text x="782.6" y="30" font-size="13.5" fill="#333333" stroke="#333333" stroke-width="0.25" textLength="44" lengthAdjust="spacingAndGlyphs" >O20/16</text>
<text x="792" y="144" font-size="13.5" fill="#333333" stroke="#333333" stroke-width="0.25" textLength="26.2" lengthAdjust="spacingAndGlyphs" >OPA</text>
<text x="782.6" y="159.6" font-size="13.5" fill="#333333" stroke="#333333" stroke-width="0.25" textLength="44.2" lengthAdjust="spacingAndGlyphs" >O16/25</text>
<text x="868.1" y="24" font-size="13.5" fill="#333333" stroke="#333333" stroke-width="0.25" textLength="105.9" lengthAdjust="spacingAndGlyphs" >Dual Fiber 110km</text>
<text x="883" y="39.6" font-size="13.5" fill="#333333" stroke="#333333" stroke-width="0.25" textLength="76.3" lengthAdjust="spacingAndGlyphs" >Loss=27.5dB</text>
<text x="530.9" y="159.7" font-size="13.5" fill="#333333" stroke="#333333" stroke-width="0.25" textLength="39.2" lengthAdjust="spacingAndGlyphs" >Switch</text>
<text x="515.4" y="280.5" font-size="13.5" fill="#333333" stroke="#333333" stroke-width="0.25" textLength="83" lengthAdjust="spacingAndGlyphs" >Data Center 2</text>
<text x="87.6" y="423.8" font-size="13.5" fill="#333333" stroke="#333333" stroke-width="0.25" textLength="81.5" lengthAdjust="spacingAndGlyphs" >Data Center 1</text>
<text x="934.6" y="423.8" font-size="13.5" fill="#333333" stroke="#333333" stroke-width="0.25" textLength="83" lengthAdjust="spacingAndGlyphs" >Data Center 3</text>
</svg></body></html>
